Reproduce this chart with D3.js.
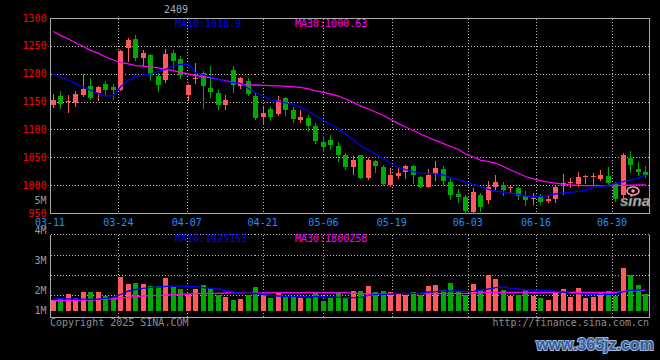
<!DOCTYPE html>
<html><head><meta charset="utf-8">
<script src="https://cdn.jsdelivr.net/npm/d3@7"></script>
<style>html,body{margin:0;padding:0;background:#000;}svg{display:block;}</style>
</head><body>
<svg id="c" width="660" height="360"></svg>
<script>
// ---------- DATA ----------
const dates = ["03-11","03-12","03-13","03-14","03-17","03-18","03-19","03-20","03-21","03-24","03-25","03-26","03-27","03-28","03-31",
"04-01","04-02","04-03","04-07","04-08","04-09","04-10","04-11","04-14","04-15","04-16","04-17","04-18","04-21","04-22","04-23","04-24","04-25","04-28","04-29","04-30",
"05-06","05-07","05-08","05-09","05-12","05-13","05-14","05-15","05-16","05-19","05-20","05-21","05-22","05-23","05-26","05-27","05-28","05-29","05-30",
"06-03","06-04","06-05","06-06","06-09","06-10","06-11","06-12","06-13","06-16","06-17","06-18","06-19","06-20","06-23","06-24","06-25","06-26","06-27","06-30",
"07-01","07-02","07-03","07-04","07-07"];
const open  = [1144,1160,1150,1148,1162,1178,1165,1181,1177,1171, 1246,1262,1228,1234,1196,1188,1238,1226,1162,1191, 1201,1175,1166,1144,1207,1178,1187,1160,1123,1136, 1128,1157,1135,1117,1120,1106,1078,1081,1070,1054, 1033,1054,1013,1043,1033,1000,1016,1023,1034,1015, 997,1020,1029,1005,984,978,952,983,973,997, 1000,994,994,980,975,979,971,976,1002,1003, 1002,1014,1015,1011,1016,1003,982,1048,1029,1023];
const high  = [1163,1169,1162,1169,1199,1193,1178,1187,1181,1243, 1264,1270,1243,1235,1201,1244,1243,1232,1181,1219, 1205,1214,1170,1162,1213,1195,1192,1165,1141,1141, 1160,1158,1140,1135,1126,1111,1088,1090,1078,1057, 1053,1055,1049,1046,1037,1030,1033,1037,1036,1016, 1029,1043,1035,1012,993,982,994,986,1007,1018, 1006,1001,996,989,986,984,981,999,1020,1012, 1024,1018,1022,1027,1032,1005,1058,1062,1042,1034];
const low   = [1140,1138,1132,1142,1160,1155,1152,1162,1154,1170, 1222,1225,1216,1189,1169,1185,1210,1192,1153,1183, 1138,1159,1137,1137,1168,1175,1162,1118,1110,1117, 1126,1126,1114,1114,1098,1075,1062,1065,1043,1029, 1020,1012,1011,1024,1000,999,1012,1013,1003,996, 996,1009,1001,975,969,950,950,954,968,991, 982,986,976,964,966,966,970,970,985,996, 998,1004,1000,1009,1000,972,979,1024,1018,1014];
const close = [1153,1146,1151,1163,1172,1157,1177,1171,1171,1241, 1260,1229,1238,1198,1180,1235,1223,1198,1180,1193, 1178,1168,1144,1153,1180,1192,1164,1121,1130,1122, 1152,1134,1119,1123,1107,1079,1069,1072,1054,1033, 1045,1013,1045,1034,1002,1018,1022,1035,1018,997, 1018,1031,1008,982,979,954,988,961,997,1006, 992,996,980,973,977,970,976,997,1004,1005, 1015,1016,1017,1019,1003,976,1054,1036,1024,1018];
const ma10  = [1200.0,1194.1,1188.2,1182.1,1176.2,1170.2,1164.1,1160.0,1160.9,1176.2, 1188.7,1194.6,1198.2,1199.5,1204.3,1207.9,1214.4,1216.9,1216.9,1201.8, 1197.7,1194.6,1190.0,1185.7,1183.9,1182.6,1173.5,1166.3,1159.1,1153.7, 1150.7,1147.8,1145.1,1140.3,1133.1,1124.1,1116.0,1108.8,1101.7,1091.8, 1081.6,1071.2,1063.1,1055.9,1047.8,1038.8,1031.7,1027.7,1024.1,1021.3, 1021.3,1020.4,1018.2,1013.2,1010.1,1005.6,1001.5,997.0,992.5,989.5, 987.3,985.2,983.0,980.5,979.3,979.3,981.8,984.1,986.1,987.2, 988.8,990.4,995.4,997.6,999.7,1003.0,1006.2,1009.2,1012.8,1018.9];
const ma30  = [1275.8,1268.9,1262.3,1255.5,1248.8,1242.0,1236.6,1230.0,1224.6,1220.1, 1217.8,1214.7,1213.5,1212.4,1210.3,1207.9,1205.4,1202.4,1199.5,1196.8, 1194.6,1193.0,1190.0,1187.3,1184.8,1181.5,1179.7,1179.7,1179.2,1178.5, 1178.0,1177.4,1176.5,1175.3,1172.6,1169.0,1166.6,1163.6,1160.0,1154.6, 1148.3,1142.1,1136.7,1131.3,1125.0,1117.8,1110.3,1104.4,1098.1,1091.8, 1085.5,1080.5,1074.7,1069.4,1064.0,1055.9,1050.5,1045.1,1042.1,1039.7, 1033.5,1027.2,1020.9,1015.5,1011.4,1008.3,1005.6,1003.8,1001.5,1000.3, 999.5,999.0,999.0,999.0,999.0,999.3,999.8,1000.2,1000.4,1000.6];
const volume = [1667000,1723000,1867000,1723000,1933000,1933000,1933000,1800000,1777000,2443000, 2200000,2243000,2200000,2133000,2133000,2400000,2090000,2033000,1867000,2033000, 2167000,2057000,1833000,1777000,1667000,1700000,1833000,2110000,1867000,1743000, 1910000,1800000,1777000,1743000,1743000,1910000,1643000,1717000,1910000,1757000, 1967000,1967000,2133000,1923000,1957000,1933000,1877000,1833000,1933000,1833000, 2133000,2167000,2000000,2243000,1967000,1833000,2200000,2000000,2500000,2367000, 2000000,1810000,1833000,2000000,1810000,1733000,1667000,1967000,2033000,1777000, 2067000,1733000,1767000,1923000,1967000,1810000,2733000,2500000,2167000,1867000];
const volMa10 = [1723000,1717000,1707000,1700000,1693000,1690000,1700000,1723000,1757000,1850000, 1967000,2017000,2057000,2090000,2100000,2123000,2133000,2133000,2123000,2110000, 2077000,2057000,2033000,1983000,1933000,1890000,1890000,1883000,1850000,1823000, 1800000,1783000,1777000,1777000,1777000,1783000,1777000,1767000,1757000,1743000, 1743000,1757000,1823000,1857000,1857000,1867000,1890000,1890000,1890000,1890000, 1933000,1943000,1967000,1967000,1967000,1943000,1957000,2000000,2033000,2077000, 2100000,2057000,2033000,2000000,2000000,1990000,1977000,1957000,1933000,1890000, 1877000,1857000,1857000,1857000,1857000,1867000,1943000,1990000,2000000,2010000];
const volMa30 = [1643000,1650000,1653000,1657000,1660000,1667000,1680000,1697000,1710000,1733000, 1757000,1777000,1800000,1810000,1817000,1830000,1843000,1857000,1867000,1877000, 1890000,1890000,1890000,1900000,1910000,1900000,1890000,1893000,1900000,1907000, 1910000,1910000,1910000,1910000,1910000,1910000,1910000,1910000,1910000,1910000, 1890000,1890000,1867000,1867000,1867000,1877000,1877000,1877000,1877000,1877000, 1877000,1877000,1877000,1890000,1890000,1890000,1890000,1923000,1923000,1923000, 1923000,1923000,1923000,1910000,1910000,1910000,1910000,1923000,1923000,1923000, 1923000,1923000,1923000,1923000,1923000,1923000,1943000,1967000,1983000,1990000];
const priceTicks = [1300,1250,1200,1150,1100,1050,1000,950];
const volTicks = [5000000,4000000,3000000,2000000,1000000];
const volTickLabels = ["5M","4M","3M","2M","1M"];
const dateTicks = ["03-11","03-24","04-07","04-21","05-06","05-19","06-03","06-16","06-30"];
const legendMain = ["MA10:1018.9","MA30:1000.63"];
const legendVol = ["MA10:1925151","MA30:1800258"];
const titleText = "2409";
const footLeft = "Copyright 2025 SINA.COM";
const footRight = "http://finance.sina.com.cn";
const watermark = "www.365jz.com";

// ---------- DRAW ----------
const RED = "#ff5a5a", GREEN = "#00a800", BLUE = "#0000ff", MAG = "#ff00ff";
const FONT = "'DejaVu Sans Mono', monospace";
const svg = d3.select("#c");
svg.append("rect").attr("width",660).attr("height",360).attr("fill","#000");
const n = dates.length;
const xBand = d3.scaleBand().domain(d3.range(n)).range([49.5,649.5]).paddingInner(0.3).paddingOuter(0.15);
const xDate = d3.scaleLinear().domain([0,n-1]).range([50,650]);
const yP = d3.scaleLinear().domain([950,1300]).range([213,18]);
const yV = d3.scaleLinear().domain([0,5000000]).range([350,200]);
const volFrac = d3.scaleLinear().domain([0,4]).range([235,315]);
const volBase = 311, volAxis = 317.5, L = 50.5, R = 649.5;
const crisp = v => Math.round(v) + 0.5;
const bx = i => Math.round(xBand(i));
const BW = 5;

const grid = svg.append("g").attr("stroke","#bbb").attr("stroke-dasharray","1,2").attr("shape-rendering","crispEdges");
// horizontal grid main
grid.selectAll(".hm").data(priceTicks.filter(v=>v<1300 && v>950)).join("line")
  .attr("x1",L).attr("x2",R).attr("y1",d=>crisp(yP(d))).attr("y2",d=>crisp(yP(d)));
// horizontal grid vol
grid.selectAll(".hv").data([1,2,3]).join("line").attr("class","hv")
  .attr("x1",L).attr("x2",R).attr("y1",d=>crisp(volFrac(d))).attr("y2",d=>crisp(volFrac(d)));
// vol top dotted
grid.append("line").attr("x1",L).attr("x2",R).attr("y1",234.5).attr("y2",234.5);
// vertical grid
const vIdx = dateTicks.map(d=>dates.indexOf(d)).filter(i=>i>0);
grid.selectAll(".vm").data(vIdx).join("line").attr("class","vm")
  .attr("x1",d=>crisp(xDate(d))).attr("x2",d=>crisp(xDate(d))).attr("y1",18.5).attr("y2",213);
grid.selectAll(".vv").data(vIdx).join("line").attr("class","vv")
  .attr("x1",d=>crisp(xDate(d))).attr("x2",d=>crisp(xDate(d))).attr("y1",234.5).attr("y2",volAxis);

// frames
const fr = svg.append("g").attr("stroke","#aaa").attr("fill","none").attr("shape-rendering","crispEdges");
fr.append("path").attr("d",`M${L},${crisp(yP(950))}V18.5H${R}V${crisp(yP(950))}H${L}`);
fr.append("path").attr("d",`M${L},234.5V${volAxis}H${R}V234.5`);

// candles
const idx = d3.range(n);
const cg = svg.append("g").attr("shape-rendering","crispEdges");
const col = i => close[i] >= open[i] ? RED : GREEN;
cg.selectAll(".wick").data(idx).join("line")
  .attr("x1",i=>bx(i)+2.5).attr("x2",i=>bx(i)+2.5)
  .attr("y1",i=>Math.round(yP(high[i]))).attr("y2",i=>Math.round(yP(low[i]))+1)
  .attr("stroke",col);
cg.selectAll(".body").data(idx).join("rect")
  .attr("x",bx).attr("width",BW)
  .attr("y",i=>Math.round(yP(Math.max(open[i],close[i]))))
  .attr("height",i=>Math.max(1,Math.round(yP(Math.min(open[i],close[i])))-Math.round(yP(Math.max(open[i],close[i])))))
  .attr("fill",col);

// volume bars
cg.selectAll(".vb").data(idx).join("rect").attr("class","vb")
  .attr("x",bx).attr("width",BW)
  .attr("y",i=>Math.round(yV(volume[i])))
  .attr("height",i=>volBase-Math.round(yV(volume[i])))
  .attr("fill",col);

// MA lines
const cx = i => bx(i)+2.5;
const lineP = arr => d3.line().x(cx).y(i=>yP(arr[i]))(idx);
const lineV = arr => d3.line().x(cx).y(i=>yV(arr[i]))(idx);
svg.append("path").attr("d",lineP(ma30)).attr("stroke",MAG).attr("stroke-width",1.3).attr("fill","none");
svg.append("path").attr("d",lineP(ma10)).attr("stroke",BLUE).attr("stroke-width",1.3).attr("fill","none");
svg.append("path").attr("d",lineV(volMa30)).attr("stroke",MAG).attr("stroke-width",1.3).attr("fill","none");
svg.append("path").attr("d",lineV(volMa10)).attr("stroke",BLUE).attr("stroke-width",1.3).attr("fill","none");

// text
const t = svg.append("g").attr("font-family",FONT).attr("font-size","10px");
t.selectAll(".pt").data(priceTicks).join("text")
  .attr("x",46.5).attr("y",d=>yP(d)+3.5).attr("text-anchor","end").attr("fill","#f00").text(d=>d);
t.selectAll(".vt").data(volTicks).join("text").attr("class","vt")
  .attr("x",46.5).attr("y",d=>Math.min(yV(d),310.5)+3.5).attr("text-anchor","end").attr("fill","#999")
  .text((d,i)=>volTickLabels[i]);
t.selectAll(".dt").data(dateTicks).join("text").attr("class","dt")
  .attr("x",d=>xDate(dates.indexOf(d))).attr("y",225.5).attr("text-anchor","middle").attr("fill","#1e90ff").text(d=>d);
t.append("text").attr("x",175).attr("y",27).attr("fill",BLUE).text(legendMain[0]);
t.append("text").attr("x",295).attr("y",27).attr("fill",MAG).text(legendMain[1]);
t.append("text").attr("x",175).attr("y",242).attr("fill",BLUE).text(legendVol[0]);
t.append("text").attr("x",295).attr("y",242).attr("fill",MAG).text(legendVol[1]);
t.append("text").attr("x",176).attr("y",13).attr("text-anchor","middle").attr("fill","#aaa").text(titleText);
t.append("text").attr("x",50).attr("y",326).attr("fill","#8c8c8c").text(footLeft);
t.append("text").attr("x",649).attr("y",326).attr("text-anchor","end").attr("fill","#8c8c8c").text(footRight);

// sina logo watermark
const sg = svg.append("g");
sg.append("ellipse").attr("cx",633).attr("cy",191).attr("rx",6).attr("ry",4).attr("fill","none").attr("stroke","#f9a").attr("stroke-width",1.5);
sg.append("circle").attr("cx",633).attr("cy",191).attr("r",1.8).attr("fill","#f9a");
sg.append("text").attr("x",635).attr("y",206).attr("text-anchor","middle")
  .attr("font-family","'Liberation Sans', Arial, sans-serif").attr("font-size","15px").attr("font-weight","bold").attr("font-style","italic")
  .attr("fill","#ddd").attr("stroke","#777").attr("stroke-width",0.6).attr("opacity",0.85).text("sina");

// site watermark
svg.append("text").attr("x",595).attr("y",350).attr("text-anchor","middle")
  .attr("font-family","'Liberation Sans', Arial, sans-serif").attr("font-size","16px").attr("font-weight","bold")
  .attr("fill","#2f5f9f").attr("stroke","#9fb6d6").attr("stroke-width",2).attr("paint-order","stroke")
  .text(watermark);
</script>
</body></html>
